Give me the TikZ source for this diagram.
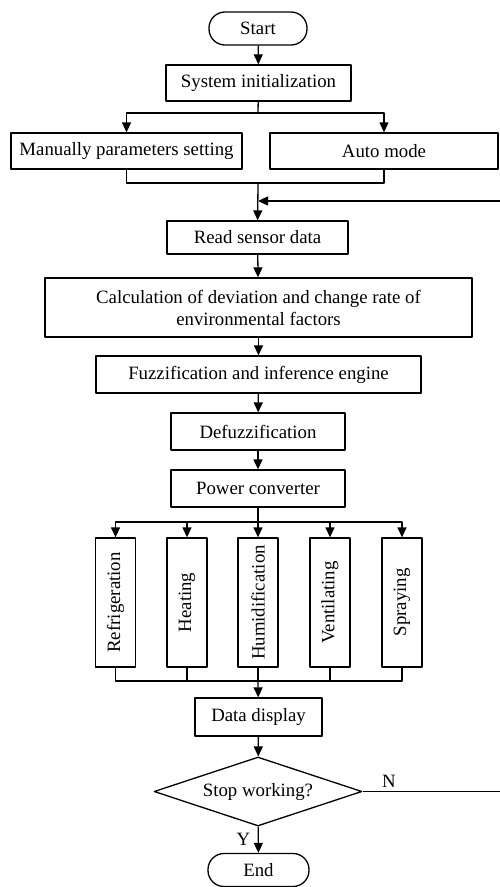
\documentclass[tikz,border=0pt]{standalone}
\usepackage{fontspec}
\setmainfont{Liberation Serif}
\usetikzlibrary{shapes.geometric,arrows.meta}
\begin{document}
\begin{tikzpicture}[x=1pt, y=-1pt, line join = round, line width=1.3pt, >={Triangle[length=10pt,width=9pt]},
box/.style={draw, minimum height=36pt, inner sep=2pt, font=\fontsize{18.8}{22}\selectfont},
term/.style={box, rounded corners=16pt, minimum height=33pt},
act/.style={box, rotate=90, minimum width=129pt, minimum height=40pt}]
\useasboundingbox (0,0) rectangle (499,887);
\def\xmid{258}
% terminals and boxes
\node[term, minimum width=98pt] (start) at (\xmid,28.5) {Start};
\node[box, minimum width=185pt] (init) at (258.5,83) {System initialization};
\node[box, minimum width=231pt] (manual) at (126.5,151) {Manually parameters setting};
\node[box, minimum width=228pt] (auto) at (384,151) {Auto mode};
\node[box, minimum width=181pt, minimum height=33pt] (read) at (257.5,237.5) {Read sensor data};
\node[box, minimum width=427pt, minimum height=59pt, align=center] (calc) at (258.5,307.5) {Calculation of deviation and change rate of\\environmental factors};
\node[box, minimum width=325pt, minimum height=37pt] (fuzzy) at (258.5,374.5) {Fuzzification and inference engine};
\node[box, minimum width=174pt, minimum height=37pt] (defuzzy) at (258,431.5) {Defuzzification};
\node[box, minimum width=174pt, minimum height=37pt] (power) at (258,488.5) {Power converter};
\node[act] (refrig) at (115.5,602.5) {Refrigeration};
\node[act] (heat) at (187,602.5) {Heating};
\node[act] (humid) at (258,602.5) {Humidification};
\node[act] (vent) at (330,602.5) {Ventilating};
\node[act] (spray) at (402,602.5) {Spraying};
\node[box, minimum width=127pt, minimum height=38pt] (display) at (258.5,717) {Data display};
\node[box, shape=diamond, aspect=3, minimum width=208pt, minimum height=69pt, inner sep=0pt] (stop) at (\xmid,791.5) {Stop working?};
\node[term, minimum width=101pt] (end) at (258.5,870) {End};
% junctions
\coordinate (split1) at (\xmid,113);
\coordinate (join1) at (\xmid,183);
\coordinate (loopin) at (\xmid,201);
\coordinate (split2) at (\xmid,522);
\coordinate (join2) at (\xmid,681);
\coordinate (loopr) at (501,791.5);
\coordinate (loopt) at (501,201);
% connectors
\draw[->] (start) -- (init);
\draw (init) -- (split1);
\draw[->] (split1) -| (manual);
\draw[->] (split1) -| (auto);
\draw (manual) |- (join1);
\draw (auto) |- (join1);
\draw[->] (join1) -- (read);
\draw[->] (read) -- (calc);
\draw[->] (calc) -- (fuzzy);
\draw[->] (fuzzy) -- (defuzzy);
\draw[->] (defuzzy) -- (power);
\draw (power) -- (split2);
\foreach \n in {refrig,heat,humid,vent,spray}{
\draw[->] (split2) -| (\n.east);
\draw (\n.west) |- (join2);
}
\draw[->] (join2) -- (display);
\draw[->] (display) -- (stop);
\draw[->] (stop) -- node[left, font=\fontsize{18.8}{22}\selectfont, xshift=-4pt]{Y} (end);
\draw[->] (stop.east) -- node[pos=0.19, above, font=\fontsize{18.8}{22}\selectfont]{N} (loopr) -- (loopt) -- (loopin);
\end{tikzpicture}
\end{document}
